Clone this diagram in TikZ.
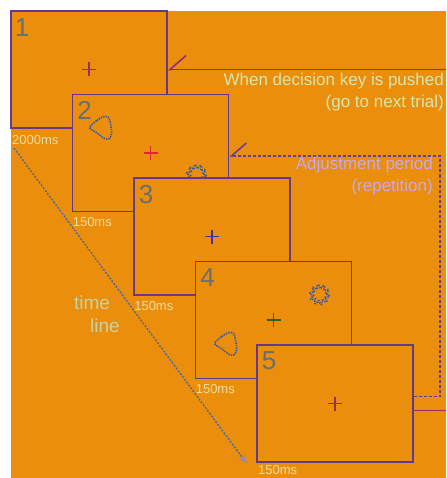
\documentclass[tikz,border=0pt]{standalone}
\usepackage{fontspec}
\setmainfont{Liberation Sans}
\usetikzlibrary{arrows.meta,positioning}
\definecolor{bgorange}{RGB}{234,142,12}
\definecolor{framepurple}{RGB}{100,56,140}
\definecolor{loopred}{RGB}{150,45,110}
\definecolor{adjpurple}{RGB}{96,60,170}
\definecolor{numgray}{RGB}{105,110,112}
\definecolor{mspale}{RGB}{238,222,160}
\definecolor{notegreen}{RGB}{212,232,178}
\definecolor{notelav}{RGB}{196,170,236}
\definecolor{stimblue}{RGB}{60,90,160}
\definecolor{timeblue}{RGB}{70,105,150}
\definecolor{tipgray}{RGB}{150,136,184}
\definecolor{fixred}{RGB}{220,40,50}
\definecolor{fixpurple}{RGB}{64,48,160}
\definecolor{fixgreen}{RGB}{40,100,50}
\newcommand{\fixcross}[2]{\draw[fixmark,#2] (#1) ++(-7,0) -- ++(14,0) (#1) ++(0,-7) -- ++(0,14);}
\newcommand{\sunstim}[1]{\draw[stim,shift={(#1)}] plot[domain=0:360,samples=133,smooth cycle] (\x:{8+2*sin(10*\x)});}
\newcommand{\blobstim}[1]{\draw[stim,shift={(#1)}] plot[smooth cycle] coordinates {(-12,0) (-5,-7) (2,-11) (7,-10) (9,-3) (10,5) (8,11) (3,11) (-5,5)};}

\begin{document}
\begin{tikzpicture}[x=1pt,y=-1pt,
    font=\fontsize{17}{22}\selectfont,
    frame/.style={draw=framepurple,line width=1.8pt,fill=bgorange,minimum width=156pt,minimum height=117pt,inner sep=0pt},
    framenum/.style={text=numgray,font=\fontsize{26}{26}\selectfont,inner sep=0pt},
    mslabel/.style={text=mspale,font=\fontsize{13}{13}\selectfont,inner sep=0pt,anchor=north west},
    fixmark/.style={line width=1.3pt},
    stim/.style={draw=stimblue,line width=1.6pt,dash pattern=on 1.5pt off 1pt},
    loopline/.style={loopred,line width=1.6pt,-{Straight Barb[harpoon,swap,length=16pt,width=28pt]}},
    adjline/.style={adjpurple,line width=1.5pt,dash pattern=on 3pt off 2pt,-{Straight Barb[harpoon,swap,length=15pt,width=26pt]}},
    timeline/.style={timeblue,line width=1.3pt,dash pattern=on 2pt off 1.5pt,-{Stealth[length=11pt,width=7pt,color=tipgray]}},
    note/.style={inner sep=0pt,align=right}
  ]
    \useasboundingbox (0,0) rectangle (446,478);
    \clip (0,0) rectangle (446,478);
    \fill[white] (0,0) rectangle (446,478);
    \fill[bgorange] (11,11) rectangle (446,478);

    % frames of one trial
    \node[frame] (f1) at (89,69.5) {};
    \node[framenum] (n1) at ([shift={(12,17)}]f1.north west) {1};
    \fixcross{f1.center}{loopred}

    \node[frame] (f2) at ([shift={(61.5,83.5)}]f1.center) {};
    \node[framenum] (n2) at ([shift={(13,17)}]f2.north west) {2};
    \fixcross{f2.center}{fixred}
    \path ([shift={(30,34)}]f2.north west) coordinate (blob2)
          ([shift={(125,81)}]f2.north west) coordinate (sun2);
    \blobstim{blob2}
    \sunstim{sun2}

    \node[frame] (f3) at ([shift={(61.5,83.5)}]f2.center) {};
    \node[framenum] (n3) at ([shift={(13,17)}]f3.north west) {3};
    \fixcross{f3.center}{fixpurple}

    \node[frame] (f4) at ([shift={(61.5,83.5)}]f3.center) {};
    \node[framenum] (n4) at ([shift={(13,17)}]f4.north west) {4};
    \fixcross{f4.center}{fixgreen}
    \path ([shift={(32,83)}]f4.north west) coordinate (blob4)
          ([shift={(125,34)}]f4.north west) coordinate (sun4);
    \blobstim{blob4}
    \sunstim{sun4}

    \node[frame] (f5) at ([shift={(61.5,83.5)}]f4.center) {};
    \node[framenum] (n5) at ([shift={(13,17)}]f5.north west) {5};
    \fixcross{f5.center}{loopred}

    % durations
    \node[mslabel] (d2) at ([shift={(1,5)}]f2.south west) {150ms};
    \node[mslabel] (d3) at ([shift={(1,5)}]f3.south west) {150ms};
    \node[mslabel] (d4) at ([shift={(1,5)}]f4.south west) {150ms};
    \node[mslabel,anchor=west] (d1) at (12,140) {2000ms};
    \node[mslabel,anchor=west] (d5) at (258,470) {150ms};

    % time line
    \coordinate (tstart) at (14,148);
    \coordinate (tend) at (247,464);
    \draw[timeline] (tstart) -- (tend);
    \node[text=notegreen!80!gray,font=\fontsize{19}{19}\selectfont,inner sep=0pt] (time) at (92,303) {time};
    \node[text=notegreen!80!gray,font=\fontsize{19}{19}\selectfont,inner sep=0pt] (line) at (105,326) {line};

    % loops back
    \draw[loopline] ([yshift=-7pt]f5.east) -- ++(50,0) |- (f1.east);
    \draw[adjline] ([yshift=7pt]f5.east) -- ++(26,0) |- ([yshift=-3pt]f2.east);
    \node[note,text=notegreen,anchor=north east] (decide) at (444,73) {When decision key is pushed\\(go to next trial)};
    \node[note,text=notelav,anchor=north east] (adjust) at (433,157) {Adjustment period\\(repetition)};
  \end{tikzpicture}
\end{document}
